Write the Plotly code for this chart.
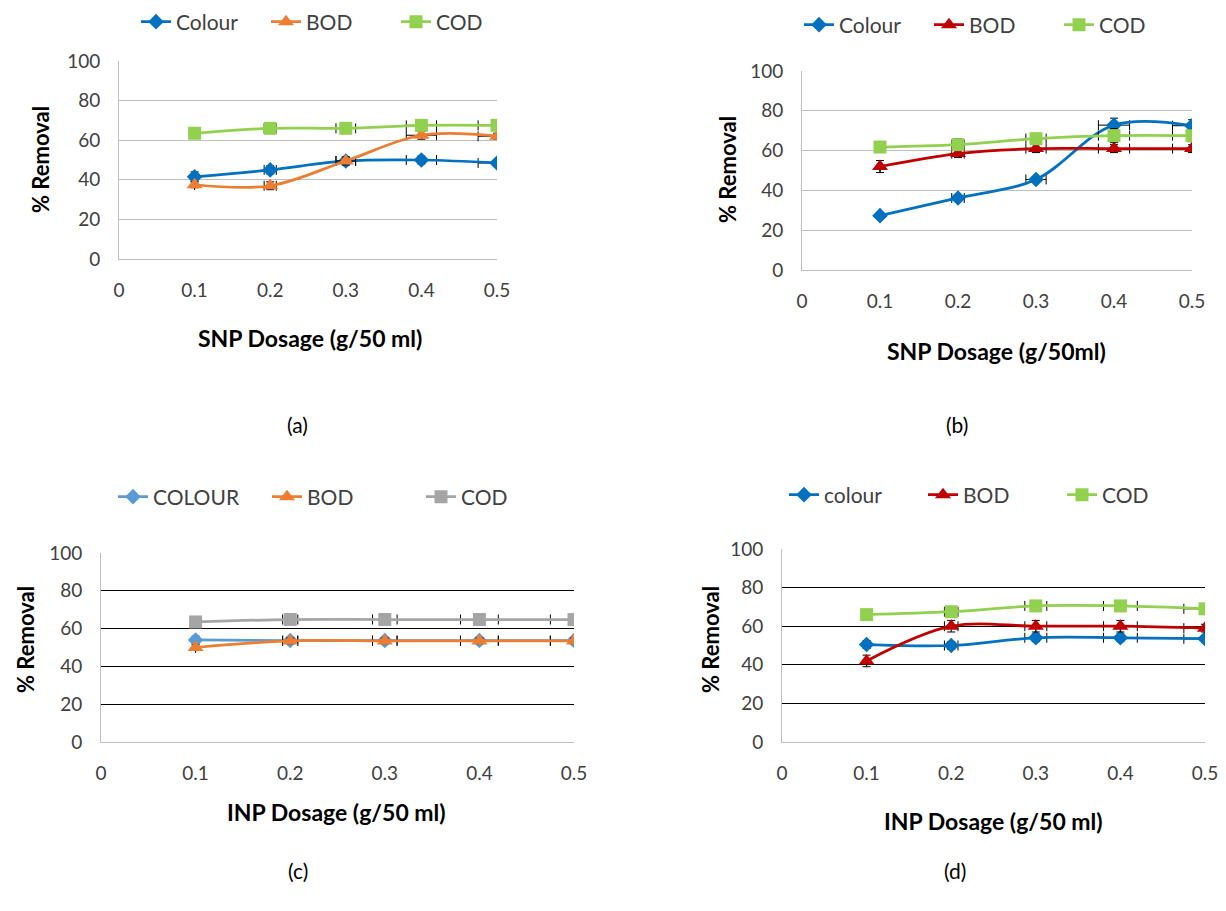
import plotly.graph_objects as go

# ---------------- data ----------------
dosage = [0.1, 0.2, 0.3, 0.4, 0.5]
x_tick_vals = [0, 0.1, 0.2, 0.3, 0.4, 0.5]
x_tick_text = ["0", "0.1", "0.2", "0.3", "0.4", "0.5"]
y_tick_vals = [0, 20, 40, 60, 80, 100]

dose_err = [0, 0.008, 0.013, 0.02, 0.025]

# (a) SNP
a_names = ["Colour", "BOD", "COD"]
a_colour = [41.5, 45.0, 49.5, 50.0, 48.5]
a_bod = [37.5, 37.0, 49.5, 62.5, 62.0]
a_cod = [63.5, 66.0, 66.0, 67.5, 67.5]
a_colour_err = [2.5, 2.0, 2.0, 2.0, 1.0]
a_bod_err = [1.5, 2.0, 2.0, 2.0, 1.5]
a_cod_err = [2.5, 1.5, 2.5, 2.5, 2.0]

# (b) SNP
b_names = ["Colour", "BOD", "COD"]
b_colour = [27.3, 36.2, 45.5, 72.8, 72.5]
b_bod = [52.0, 58.5, 61.0, 61.0, 61.0]
b_cod = [61.8, 63.0, 66.0, 67.5, 67.5]
b_colour_err = [1.5, 1.5, 1.5, 3.5, 3.0]
b_bod_err = [3.0, 2.0, 2.0, 2.0, 2.0]
b_cod_err = [2.5, 3.0, 2.5, 3.5, 3.0]

# (c) INP
c_names = ["COLOUR", "BOD", "COD"]
c_colour = [54.0, 53.7, 53.7, 53.7, 53.7]
c_bod = [50.0, 53.5, 53.5, 53.5, 53.5]
c_cod = [63.5, 64.8, 64.8, 64.8, 64.8]
c_colour_err = [2.0, 1.5, 1.5, 1.5, 1.5]
c_bod_err = [1.5, 1.5, 1.5, 1.5, 1.5]
c_cod_err = [1.5, 1.5, 1.5, 1.5, 1.5]

# (d) INP
d_names = ["colour", "BOD", "COD"]
d_colour = [50.5, 50.0, 54.0, 54.0, 53.5]
d_bod = [42.0, 60.0, 60.0, 60.0, 59.0]
d_cod = [66.0, 67.5, 70.5, 70.5, 69.0]
d_colour_err = [2.0, 2.0, 2.0, 2.0, 1.5]
d_bod_err = [3.0, 3.0, 3.0, 3.0, 2.0]
d_cod_err = [1.5, 2.0, 2.0, 2.0, 2.0]

x_titles = ["SNP Dosage (g/50 ml)", "SNP Dosage (g/50ml)", "INP Dosage (g/50 ml)", "INP Dosage (g/50 ml)"]
y_title = "% Removal"
panel_labels = ["(a)", "(b)", "(c)", "(d)"]

# ---------------- styling ----------------
PAGE_W, PAGE_H = 1226, 911
OFF = 8  # default page body margin
W, H = PAGE_W - OFF, PAGE_H - OFF
FONT = "Lato, 'Liberation Sans', sans-serif"
BLUE, ORANGE, GREEN, RED, LBLUE, GRAY = "#0070C0", "#ED7D31", "#92D050", "#C00000", "#5B9BD5", "#A5A5A5"


def px(x):
    return (x - OFF) / W


def py(y):
    return 1 - (y - OFF) / H


# pixel boxes of each plot area on the page: (x0, x1, y_top, y_bottom)
boxes = [(119, 497, 61, 259), (802, 1192, 71, 270), (101, 574, 553, 742), (782, 1205, 549, 742)]
grid_colors = ["#BFBFBF", "#BFBFBF", "#000000", "#000000"]
legend_pos = [(136, 22), (799, 25), (113, 497), (784, 495)]
legend_entry_w = [85, 85, 109, 94]
ytitle_pos = [(40, 160), (727, 170), (25, 640), (710, 640)]
xtitle_pos = [(310, 338), (997, 351), (336, 812), (993, 821)]
label_pos = [(297, 424), (957, 424), (298, 870), (955, 870)]

panels = [
    (a_names, [a_colour, a_bod, a_cod], [a_colour_err, a_bod_err, a_cod_err], [BLUE, ORANGE, GREEN]),
    (b_names, [b_colour, b_bod, b_cod], [b_colour_err, b_bod_err, b_cod_err], [BLUE, RED, GREEN]),
    (c_names, [c_colour, c_bod, c_cod], [c_colour_err, c_bod_err, c_cod_err], [LBLUE, ORANGE, GRAY]),
    (d_names, [d_colour, d_bod, d_cod], [d_colour_err, d_bod_err, d_cod_err], [BLUE, RED, GREEN]),
]
symbols = ["diamond", "triangle-up", "square"]
msizes = [12, 14, 13]

fig = go.Figure()
annotations = []
layout = {}

for i, (names, series, errs, colors) in enumerate(panels):
    sfx = "" if i == 0 else str(i + 1)
    xa, ya = "x" + sfx, "y" + sfx
    lg = "legend" + sfx
    for j in range(3):
        fig.add_trace(go.Scatter(
            x=dosage, y=series[j], name=names[j], mode="lines+markers",
            xaxis=xa, yaxis=ya, legend=lg,
            line=dict(color=colors[j], width=2.75, shape="spline", smoothing=1),
            marker=dict(symbol=symbols[j], size=msizes[j], color=colors[j]),
            error_y=dict(type="data", array=errs[j], color="#000000", thickness=1, width=4),
            error_x=dict(type="data", array=dose_err, color="#000000", thickness=1, width=5),
        ))
    x0, x1, yt, yb = boxes[i]
    layout["xaxis" + sfx] = dict(
        domain=[px(x0), px(x1)], anchor=ya, range=[0, 0.5],
        tickvals=x_tick_vals, ticktext=x_tick_text, showgrid=False, zeroline=False,
        showline=True, linecolor="#BFBFBF", linewidth=1, ticks="",
        ticklabelstandoff=14, tickfont=dict(family=FONT, size=19, color="#404040"),
    )
    layout["yaxis" + sfx] = dict(
        domain=[py(yb), py(yt)], anchor=xa, range=[0, 100],
        tickvals=y_tick_vals, showgrid=True, gridcolor=grid_colors[i], gridwidth=1,
        zeroline=False, showline=True, linecolor="#BFBFBF", linewidth=1, ticks="",
        ticklabelstandoff=14, tickfont=dict(family=FONT, size=19, color="#404040"),
    )
    lx, ly = legend_pos[i]
    layout[lg] = dict(
        x=px(lx), y=py(ly), xanchor="left", yanchor="middle", orientation="h",
        font=dict(family=FONT, size=21, color="#404040"), bgcolor="rgba(0,0,0,0)",
        itemwidth=30, tracegroupgap=0, entrywidth=legend_entry_w[i], entrywidthmode="pixels",
    )
    tx, ty = ytitle_pos[i]
    annotations.append(dict(
        text="<b>" + y_title + "</b>", x=px(tx), y=py(ty), xref="paper", yref="paper",
        textangle=-90, showarrow=False, xanchor="center", yanchor="middle",
        font=dict(family=FONT, size=22, color="#000000"),
    ))
    tx, ty = xtitle_pos[i]
    annotations.append(dict(
        text="<b>" + x_titles[i] + "</b>", x=px(tx), y=py(ty), xref="paper", yref="paper",
        showarrow=False, xanchor="center", yanchor="middle",
        font=dict(family=FONT, size=23, color="#000000"),
    ))
    tx, ty = label_pos[i]
    annotations.append(dict(
        text=panel_labels[i], x=px(tx), y=py(ty), xref="paper", yref="paper",
        showarrow=False, xanchor="center", yanchor="middle",
        font=dict(family=FONT, size=21, color="#000000"),
    ))

fig.update_layout(
    width=W, height=H, margin=dict(l=0, r=0, t=0, b=0, autoexpand=False),
    paper_bgcolor="white", plot_bgcolor="white",
    annotations=annotations, showlegend=True, **layout,
)

fig.write_html("out.html")
